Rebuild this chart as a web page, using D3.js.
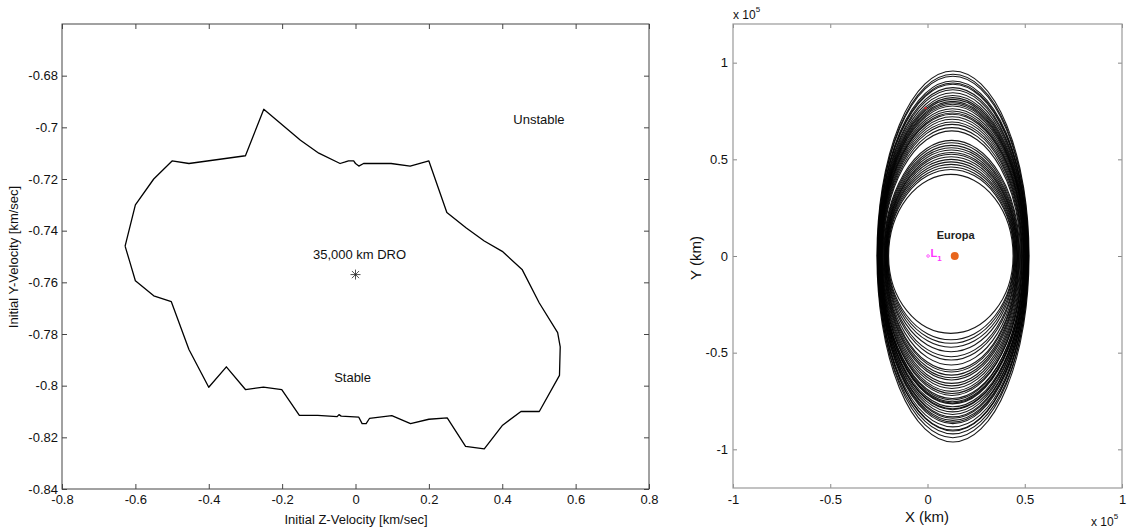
<!DOCTYPE html>
<html>
<head>
<meta charset="utf-8">
<script src="https://cdn.jsdelivr.net/npm/d3@7"></script>
<style>
  html, body { margin: 0; padding: 0; background: #fff; }
  svg { display: block; font-family: "Liberation Sans", Arial, sans-serif; }
</style>
</head>
<body>
<svg id="chart" width="1127" height="531"></svg>
<script>
// ---------------- Left panel data (stability boundary) ----------------
const zTicks = [-0.8, -0.6, -0.4, -0.2, 0, 0.2, 0.4, 0.6, 0.8];
const yvTicks = [-0.84, -0.82, -0.8, -0.78, -0.76, -0.74, -0.72, -0.7, -0.68];
const boundaryZ = [-0.628, -0.600, -0.550, -0.500, -0.454, -0.300, -0.250, -0.150, -0.100, -0.042, -0.030, -0.019, -0.005, 0.000, 0.009, 0.022, 0.050, 0.097, 0.149, 0.200, 0.249, 0.302, 0.351, 0.400, 0.454, 0.501, 0.551, 0.558, 0.556, 0.501, 0.451, 0.401, 0.351, 0.300, 0.250, 0.200, 0.150, 0.099, 0.038, 0.029, 0.018, 0.009, -0.039, -0.045, -0.050, -0.103, -0.153, -0.201, -0.251, -0.300, -0.352, -0.400, -0.454, -0.502, -0.550, -0.600, -0.616, -0.628];
const boundaryY = [-0.746, -0.730, -0.720, -0.713, -0.714, -0.711, -0.693, -0.705, -0.710, -0.714, -0.7135, -0.713, -0.713, -0.714, -0.715, -0.714, -0.714, -0.714, -0.715, -0.713, -0.733, -0.739, -0.744, -0.748, -0.755, -0.768, -0.7795, -0.785, -0.796, -0.810, -0.810, -0.8153, -0.8245, -0.8235, -0.8125, -0.813, -0.8147, -0.8116, -0.8127, -0.8147, -0.8147, -0.8122, -0.8118, -0.8112, -0.8120, -0.8115, -0.8115, -0.8015, -0.8006, -0.8015, -0.7927, -0.8006, -0.786, -0.7675, -0.7652, -0.7594, -0.7517, -0.746];
const droPoint = [0, -0.757];
const leftNotes = [
  { text: "35,000 km DRO", z: 0.011, y: -0.7497 },
  { text: "Unstable", z: 0.50, y: -0.6975 },
  { text: "Stable", z: -0.008, y: -0.7972 }
];

// ---------------- Right panel data (orbit trajectory, units of 1e5 km) ----------------
const xTicksR = [-1, -0.5, 0, 0.5, 1];
const yTicksR = [-1, -0.5, 0, 0.5, 1];
const orbitTop = [0.957,0.940,0.930,0.905,0.895,0.888,0.871,0.860,0.845,0.830,0.820,0.810,0.800,0.793,0.785,0.776,0.762,0.750,0.740,0.733,0.720,0.707,0.694,0.681,0.664,0.647,0.598,0.586,0.572,0.560,0.548,0.535,0.526,0.513,0.500,0.487,0.474,0.461,0.448,0.422];
const orbitBottom = [-0.962,-0.920,-0.940,-0.900,-0.884,-0.905,-0.867,-0.850,-0.860,-0.832,-0.840,-0.806,-0.820,-0.790,-0.780,-0.795,-0.765,-0.754,-0.760,-0.737,-0.745,-0.711,-0.722,-0.700,-0.685,-0.672,-0.659,-0.642,-0.630,-0.616,-0.600,-0.590,-0.564,-0.538,-0.521,-0.495,-0.472,-0.452,-0.434,-0.400];
const orbitLeft = [-0.260,-0.258,-0.257,-0.255,-0.254,-0.253,-0.251,-0.250,-0.249,-0.248,-0.247,-0.246,-0.245,-0.244,-0.243,-0.242,-0.241,-0.240,-0.239,-0.238,-0.237,-0.235,-0.234,-0.232,-0.230,-0.228,-0.225,-0.223,-0.221,-0.219,-0.217,-0.215,-0.214,-0.212,-0.210,-0.209,-0.207,-0.205,-0.203,-0.200];
const orbitRight = [0.522,0.520,0.518,0.516,0.515,0.514,0.512,0.511,0.510,0.508,0.507,0.505,0.504,0.503,0.502,0.500,0.498,0.496,0.495,0.493,0.491,0.488,0.486,0.484,0.481,0.478,0.474,0.471,0.468,0.466,0.463,0.461,0.459,0.456,0.454,0.451,0.449,0.446,0.444,0.440];
const europaPos = [0.14, 0];
const l1Pos = [0.003, 0];
const redDot = [-0.01, 0.765];

const svg = d3.select("#chart");
const fmt = d => String(+(+d).toFixed(2));

// ================= LEFT PANEL =================
const lx = d3.scaleLinear().domain([-0.8, 0.8]).range([62, 649]);
const ly = d3.scaleLinear().domain([-0.84, -0.66]).range([489, 24]);
const L = svg.append("g");

function styleAxis(g, color) {
  g.select(".domain").remove();
  g.selectAll(".tick line").attr("stroke", color);
  g.selectAll(".tick text").attr("fill", "#111").style("font-size", "13px")
    .style("font-family", '"Liberation Sans", Arial, sans-serif');
}

L.append("g").attr("transform", "translate(0,489)")
  .call(d3.axisBottom(lx).tickValues(zTicks).tickFormat(fmt).tickSize(-5).tickPadding(6))
  .call(g => styleAxis(g, "#444"));
L.append("g").attr("transform", "translate(0,24)")
  .call(d3.axisTop(lx).tickValues(zTicks).tickFormat("").tickSize(-5))
  .call(g => styleAxis(g, "#444"));
L.append("g").attr("transform", "translate(62,0)")
  .call(d3.axisLeft(ly).tickValues(yvTicks).tickFormat(fmt).tickSize(-5).tickPadding(4))
  .call(g => styleAxis(g, "#444"));
L.append("g").attr("transform", "translate(649,0)")
  .call(d3.axisRight(ly).tickValues(yvTicks).tickFormat("").tickSize(-5))
  .call(g => styleAxis(g, "#444"));
L.append("rect").attr("x", lx(-0.8)).attr("y", ly(-0.66))
  .attr("width", lx(0.8) - lx(-0.8)).attr("height", ly(-0.84) - ly(-0.66))
  .attr("fill", "none").attr("stroke", "#444").attr("stroke-width", 1);

const bPts = boundaryZ.map((z, i) => [z, boundaryY[i]]);
L.append("path").datum(bPts)
  .attr("d", d3.line().x(d => lx(d[0])).y(d => ly(d[1])))
  .attr("fill", "none").attr("stroke", "#000").attr("stroke-width", 1.3)
  .attr("stroke-linejoin", "round");

// asterisk marker
const sx = lx(droPoint[0]), sy = ly(droPoint[1]);
const ast = L.append("g").attr("transform", `translate(${sx},${sy})`)
  .attr("stroke", "#222").attr("stroke-width", 0.8);
[[-5,0,5,0],[0,-5,0,5],[-3.6,-3.6,3.6,3.6],[-3.6,3.6,3.6,-3.6]].forEach(s =>
  ast.append("line").attr("x1", s[0]).attr("y1", s[1]).attr("x2", s[2]).attr("y2", s[3]));

L.selectAll("text.note").data(leftNotes).enter().append("text")
  .attr("class", "note")
  .attr("x", d => lx(d.z)).attr("y", d => ly(d.y))
  .attr("text-anchor", "middle").attr("dominant-baseline", "middle")
  .style("font-size", "13px").attr("fill", "#111")
  .text(d => d.text);

L.append("text").attr("x", 356).attr("y", 521)
  .attr("text-anchor", "middle").attr("dominant-baseline", "middle")
  .style("font-size", "13px").attr("fill", "#111")
  .text("Initial Z-Velocity [km/sec]");
L.append("text").attr("transform", "translate(15,257) rotate(-90)")
  .attr("text-anchor", "middle").attr("dominant-baseline", "middle")
  .style("font-size", "13px").attr("fill", "#111")
  .text("Initial Y-Velocity [km/sec]");

// ================= RIGHT PANEL =================
const rx = d3.scaleLinear().domain([-1, 1]).range([733, 1122]);
const ry = d3.scaleLinear().domain([-1.2, 1.2]).range([488, 24]);
const R = svg.append("g");

R.append("clipPath").attr("id", "rclip").append("rect")
  .attr("x", rx(-1)).attr("y", ry(1.2)).attr("width", rx(1) - rx(-1)).attr("height", ry(-1.2) - ry(1.2));

const fmtR = d => String(+(+d).toFixed(1));
R.append("g").attr("transform", "translate(0,488)")
  .call(d3.axisBottom(rx).tickValues(xTicksR).tickFormat(fmtR).tickSize(-4).tickPadding(7))
  .call(g => styleAxis(g, "#888"));
R.append("g").attr("transform", "translate(0,24)")
  .call(d3.axisTop(rx).tickValues(xTicksR).tickFormat("").tickSize(-4))
  .call(g => styleAxis(g, "#888"));
R.append("g").attr("transform", "translate(733,0)")
  .call(d3.axisLeft(ry).tickValues(yTicksR).tickFormat(fmtR).tickSize(-4).tickPadding(5))
  .call(g => styleAxis(g, "#888"));
R.append("g").attr("transform", "translate(1122,0)")
  .call(d3.axisRight(ry).tickValues(yTicksR).tickFormat("").tickSize(-4))
  .call(g => styleAxis(g, "#888"));
R.append("rect").attr("x", rx(-1)).attr("y", ry(1.2))
  .attr("width", rx(1) - rx(-1)).attr("height", ry(-1.2) - ry(1.2))
  .attr("fill", "none").attr("stroke", "#999").attr("stroke-width", 1.2);

const orbits = orbitTop.map((t, i) => ({ top: t, bottom: orbitBottom[i], left: orbitLeft[i], right: orbitRight[i] }));
R.append("g").attr("clip-path", "url(#rclip)")
  .selectAll("path").data(orbits).enter().append("path")
  .attr("d", d => {
    const x0 = rx(d.left), x1 = rx(d.right), y0 = ry(0);
    const a = (x1 - x0) / 2;
    const bt = y0 - ry(d.top), bb = ry(d.bottom) - y0;
    return `M${x0},${y0}A${a},${bt} 0 0 1 ${x1},${y0}A${a},${bb} 0 0 1 ${x0},${y0}`;
  })
  .attr("fill", "none").attr("stroke", "#000").attr("stroke-width", 1.1).attr("stroke-opacity", 0.9);

R.append("circle").attr("cx", rx(redDot[0])).attr("cy", ry(redDot[1])).attr("r", 1.2).attr("fill", "#e02020");
R.append("circle").attr("cx", rx(europaPos[0])).attr("cy", ry(europaPos[1])).attr("r", 4).attr("fill", "#e8661c");
R.append("circle").attr("cx", rx(l1Pos[0])).attr("cy", ry(l1Pos[1])).attr("r", 1.3)
  .attr("fill", "none").attr("stroke", "#ff33ff").attr("stroke-width", 0.8);
const l1t = R.append("text").attr("x", rx(l1Pos[0]) + 2.5).attr("y", ry(0) + 1)
  .style("font-size", "11px").style("font-weight", "bold").attr("fill", "#ff33ff");
l1t.append("tspan").text("L");
l1t.append("tspan").attr("dy", 4).style("font-size", "8px").text("1");
R.append("text").attr("x", rx(europaPos[0]) + 1).attr("y", ry(0.105))
  .attr("text-anchor", "middle").attr("dominant-baseline", "middle")
  .style("font-size", "11px").style("font-weight", "bold").attr("fill", "#222")
  .text("Europa");

R.append("text").attr("x", 927).attr("y", 518)
  .attr("text-anchor", "middle").attr("dominant-baseline", "middle")
  .style("font-size", "15px").attr("fill", "#111").text("X (km)");
R.append("text").attr("transform", "translate(697,258) rotate(-90)")
  .attr("text-anchor", "middle").attr("dominant-baseline", "middle")
  .style("font-size", "15px").attr("fill", "#111").text("Y (km)");

function expLabel(x, y) {
  const t = R.append("text").attr("x", x).attr("y", y).style("font-size", "12px").attr("fill", "#111");
  t.append("tspan").text("x 10");
  t.append("tspan").attr("dy", -7).style("font-size", "8px").text("5");
}
expLabel(733, 19);
expLabel(1091, 526);
</script>
</body>
</html>
